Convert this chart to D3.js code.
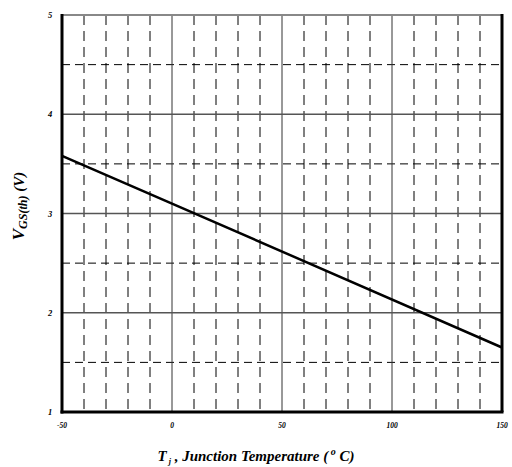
<!DOCTYPE html>
<html><head><meta charset="utf-8">
<script src="https://cdn.jsdelivr.net/npm/d3@7"></script>
<style>body{margin:0;background:#fff;}</style>
</head><body>
<svg id="chart" width="512" height="467"></svg>
<script>
const xTicks = [-50, 0, 50, 100, 150];
const yTicks = [1, 2, 3, 4, 5];
const xMinor = [-40,-30,-20,-10,10,20,30,40,60,70,80,90,110,120,130,140];
const yMinor = [1.5, 2.5, 3.5, 4.5];
const tempC = [-50, 0, 150];
const vgs = [3.58, 3.10, 1.65];

const svg = d3.select("#chart");
const L = 62, R = 502, T = 15, B = 412;
const x = d3.scaleLinear().domain([-50,150]).range([L,R]);
const y = d3.scaleLinear().domain([1,5]).range([B,T]);
const font = "'Liberation Serif','Times New Roman',serif";

// minor dashed grid
svg.append("g").selectAll("line").data(xMinor).join("line")
  .attr("x1", d=>x(d)).attr("x2", d=>x(d)).attr("y1", T).attr("y2", B)
  .attr("stroke", "#000").attr("stroke-width", 1).attr("stroke-dasharray", "10,6");
svg.append("g").selectAll("line").data(yMinor).join("line")
  .attr("x1", L).attr("x2", R).attr("y1", d=>y(d)).attr("y2", d=>y(d))
  .attr("stroke", "#000").attr("stroke-width", 1).attr("stroke-dasharray", "8,5");
// major solid grid
svg.append("g").selectAll("line").data(xTicks.slice(1,-1)).join("line")
  .attr("x1", d=>x(d)).attr("x2", d=>x(d)).attr("y1", T).attr("y2", B)
  .attr("stroke", "#333").attr("stroke-width", 1);
svg.append("g").selectAll("line").data(yTicks.slice(1,-1)).join("line")
  .attr("x1", L).attr("x2", R).attr("y1", d=>y(d)).attr("y2", d=>y(d))
  .attr("stroke", "#555").attr("stroke-width", 1.3);

// frame
svg.append("line").attr("x1", L).attr("x2", R).attr("y1", T).attr("y2", T)
  .attr("stroke", "#888").attr("stroke-width", 2);
svg.append("line").attr("x1", L).attr("x2", L).attr("y1", T-1).attr("y2", B+1.5)
  .attr("stroke", "#000").attr("stroke-width", 3);
svg.append("line").attr("x1", L-1.5).attr("x2", R+1.5).attr("y1", B).attr("y2", B)
  .attr("stroke", "#000").attr("stroke-width", 3);
svg.append("line").attr("x1", R).attr("x2", R).attr("y1", T-1).attr("y2", B)
  .attr("stroke", "#000").attr("stroke-width", 3);

// data line
const pts = tempC.map((t,i)=>[t, vgs[i]]);
svg.append("path").datum(pts)
  .attr("d", d3.line().x(d=>x(d[0])).y(d=>y(d[1])))
  .attr("fill","none").attr("stroke","#000").attr("stroke-width",2.5);

// tick labels
svg.append("g").selectAll("text").data(xTicks).join("text")
  .attr("x", d=>x(d)).attr("y", 428).attr("text-anchor","middle")
  .attr("font-family", font).attr("font-size", 7.5).attr("font-weight","bold").attr("font-style","italic")
  .text(d=>d);
svg.append("g").selectAll("text").data(yTicks).join("text")
  .attr("x", 50).attr("y", d=>y(d)+3).attr("text-anchor","middle")
  .attr("font-family", font).attr("font-size", 8.5).attr("font-weight","bold").attr("font-style","italic")
  .text(d=>d);

// axis titles
const xt = svg.append("text").attr("x", 256).attr("y", 461).attr("text-anchor","middle")
  .attr("font-family", font).attr("font-size", 15).attr("font-weight","bold").attr("font-style","italic");
xt.append("tspan").text("T");
xt.append("tspan").attr("font-size", 8).attr("dy", 3).text(" j");
xt.append("tspan").attr("dy", -3).text(" , Junction Temperature (");
xt.append("tspan").attr("font-size", 10).attr("dy", -6).text(" o");
xt.append("tspan").attr("dy", 6).text(" C)");

const yt = svg.append("text").attr("transform","translate(24,206) rotate(-90)").attr("text-anchor","middle")
  .attr("font-family", font).attr("font-size", 15).attr("font-weight","bold").attr("font-style","italic");
yt.append("tspan").attr("font-size", 17).text("V");
yt.append("tspan").attr("font-size", 12).attr("dy", 3).text("GS(th)");
yt.append("tspan").attr("dy", -3).text(" (V)");
</script>
</body></html>
